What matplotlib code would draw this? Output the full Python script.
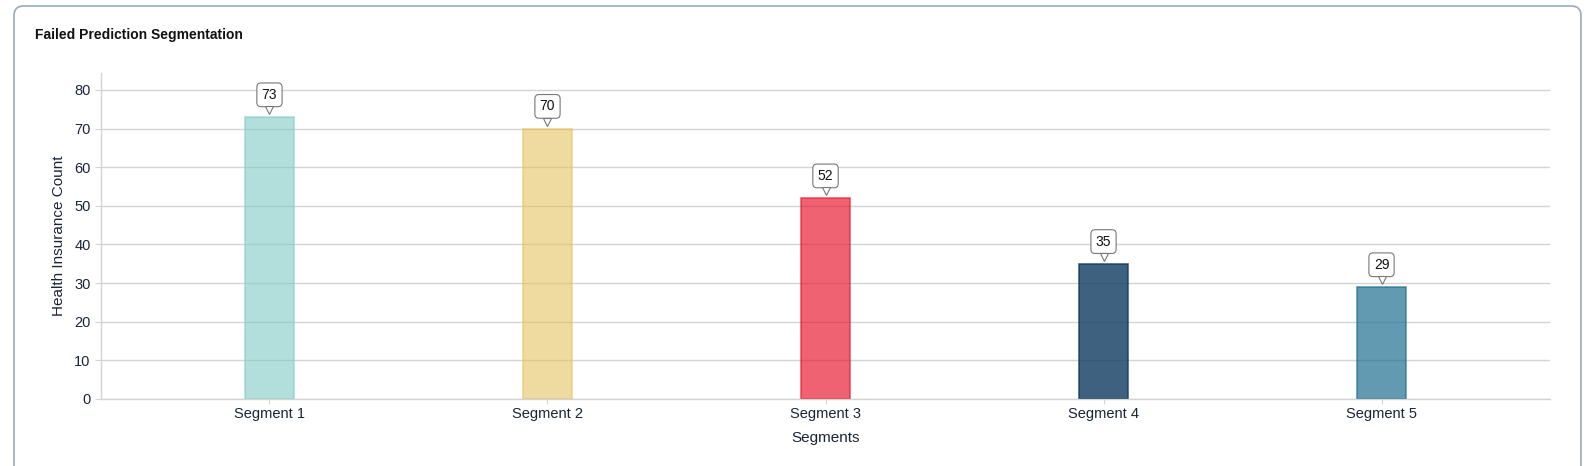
import matplotlib.pyplot as plt
from matplotlib.patches import FancyBboxPatch
from matplotlib.transforms import offset_copy

plt.rcParams['font.family'] = ['Liberation Sans', 'DejaVu Sans']

# ── Data ─────────────────────────────
segments = ['Segment 1', 'Segment 2', 'Segment 3', 'Segment 4', 'Segment 5']
counts   = [73, 70, 52, 35, 29]
colors   = ['#80cbc4', '#e5c35f', '#e8182e', '#0f3a60', '#1f7090']
alphas   = [0.6, 0.6, 0.68, 0.8, 0.7]

text_col = '#1b2337'
grid_col = '#d4d4d4'

fig = plt.figure(figsize=(15.91, 4.66), dpi=100)

# card border (bottom runs off the image)
card = FancyBboxPatch((14 / 1591, -0.1), (1581 - 14) / 1591, 1.1 - 6 / 466,
                      boxstyle='round,pad=0,rounding_size=0.006',
                      transform=fig.transFigure, facecolor='none',
                      edgecolor='#9aabbc', linewidth=1.2, mutation_aspect=3.4,
                      zorder=-1)
fig.patches.append(card)

fig.text(35 / 1591, 1 - 35 / 466, 'Failed Prediction Segmentation',
         fontsize=10, fontweight='bold', color='#111111', va='center')

ax = fig.add_axes([101 / 1591, 1 - 399 / 466, (1550 - 101) / 1591, (399 - 73) / 466])
ax.patch.set_alpha(0)

x = list(range(len(segments)))
for i in x:
    ax.bar(i, counts[i], width=0.175, color=colors[i], alpha=alphas[i],
           edgecolor=colors[i], linewidth=1.2, zorder=2)

ax.set_xlim(-0.606, 4.606)
ax.set_ylim(0, 84.4)
ax.set_yticks(range(0, 81, 10))
ax.set_xticks(x)
ax.set_xticklabels(segments)
ax.grid(axis='y', color=grid_col, linewidth=1, zorder=1)
ax.set_axisbelow(True)

for s in ['top', 'right']:
    ax.spines[s].set_visible(False)
for s in ['left', 'bottom']:
    ax.spines[s].set_color(grid_col)
    ax.spines[s].set_linewidth(1)

ax.tick_params(axis='both', colors=grid_col, labelcolor=text_col, labelsize=10.5)
ax.tick_params(axis='y', length=4.5, pad=3)
ax.tick_params(axis='x', length=3.5, pad=2.5)

ax.set_xlabel('Segments', fontsize=11, color=text_col, labelpad=7)
ax.set_ylabel('Health Insurance Count', fontsize=11, color=text_col, labelpad=6)

# value callouts
for i in x:
    ax.annotate(str(counts[i]), xy=(i, counts[i]), xytext=(0, 16),
                textcoords='offset points', ha='center', va='center',
                fontsize=10, color='#111111', zorder=5,
                bbox=dict(boxstyle='round,pad=0.35,rounding_size=0.3',
                          fc='white', ec='#777777', lw=0.8))
    ptr = offset_copy(ax.transData, fig=fig, x=0, y=5.0, units='points')
    ax.plot([i], [counts[i]], marker='v', markersize=6,
            markerfacecolor='white', markeredgecolor='#777777',
            markeredgewidth=0.8, linestyle='none', zorder=6, transform=ptr)

fig.savefig('out.png', dpi=100)
